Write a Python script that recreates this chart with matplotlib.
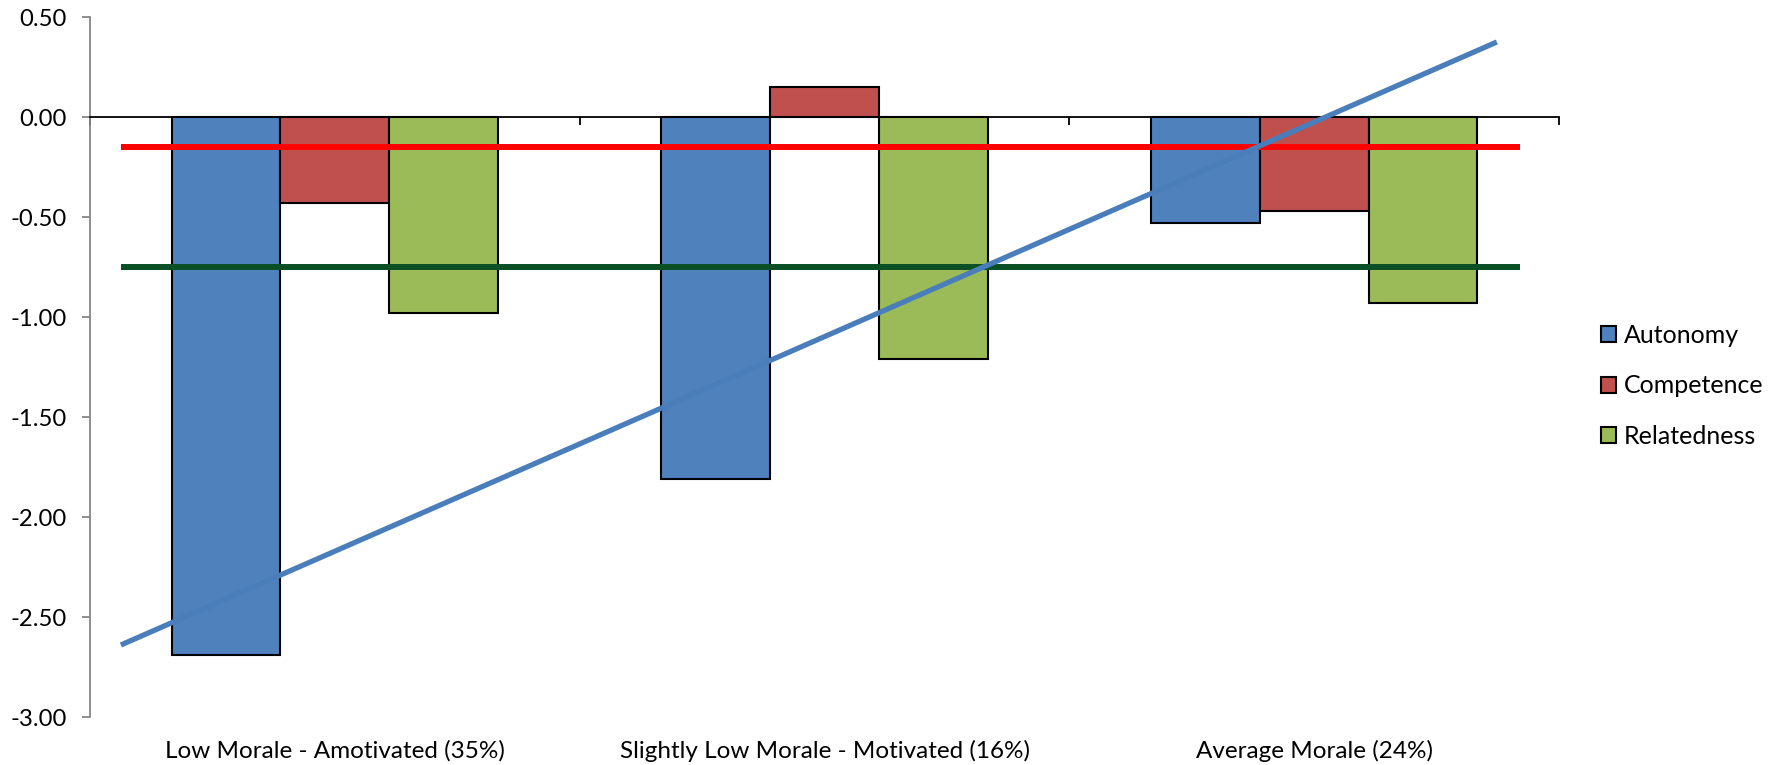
import matplotlib
matplotlib.use("Agg")
import matplotlib.pyplot as plt
import matplotlib.transforms as mtransforms
import numpy as np

# Category labels and the three need-satisfaction series
categories = ["Low Morale - Amotivated (35%)",
              "Slightly Low Morale - Motivated (16%)",
              "Average Morale (24%)"]
series_names = ["Autonomy", "Competence", "Relatedness"]
autonomy = [-2.69, -1.81, -0.53]
competence = [-0.43, 0.15, -0.47]
relatedness = [-0.98, -1.21, -0.93]

# Reference levels and the linear trend drawn across the groups
red_level = -0.15
green_level = -0.75
ref_x = [-0.437, 2.42]
trend_x = [-0.437, 2.373]
trend_y = [-2.64, 0.375]

y_ticks = [0.5, 0.0, -0.5, -1.0, -1.5, -2.0, -2.5, -3.0]

colors = ["#4F81BD", "#C0504D", "#9BBB59"]

plt.rcParams["font.family"] = ["Lato", "DejaVu Sans"]

fig = plt.figure(figsize=(17.77, 7.65), dpi=100)
ax = fig.add_axes([90 / 1777, 48 / 765, 1469 / 1777, 700 / 765])

x = np.arange(len(categories))
width = 0.222
values = [autonomy, competence, relatedness]
for i, (name, vals, col) in enumerate(zip(series_names, values, colors)):
    ax.bar(x + (i - 1) * width, vals, width, color=col, edgecolor="black",
           linewidth=1.5, label=name, zorder=2)

ax.plot(ref_x, [red_level, red_level], color="#FF0000", linewidth=4.3,
        solid_capstyle="butt", zorder=3)
ax.plot(ref_x, [green_level, green_level], color="#0B4F25", linewidth=4.3,
        solid_capstyle="butt", zorder=3)
ax.plot(trend_x, trend_y, color="#4A7EBB", linewidth=3.8,
        solid_capstyle="butt", zorder=4)

ax.set_xlim(-0.5, len(categories) - 0.5)
ax.set_ylim(-3.0, 0.5)

# y axis: gray spine with outward ticks
ax.set_yticks(y_ticks)
ax.set_yticklabels([f"{v:.2f}" for v in y_ticks])
ax.spines["left"].set_color("#868686")
ax.spines["left"].set_linewidth(1.3)
ax.tick_params(axis="y", direction="out", length=6, width=1.3,
               color="#868686", labelsize=17.2, pad=11)

# x axis line at zero with ticks at the group boundaries
ax.spines["bottom"].set_position(("data", 0))
ax.spines["bottom"].set_color("black")
ax.spines["bottom"].set_linewidth(1.3)
ax.spines["bottom"].set_zorder(2.5)
ax.set_xticks(np.arange(len(categories) + 1) - 0.5)
ax.set_xticklabels([])
ax.tick_params(axis="x", direction="out", length=6, width=1.3, color="black")
ax.spines["top"].set_visible(False)
ax.spines["right"].set_visible(False)

trans = mtransforms.blended_transform_factory(ax.transData, ax.transAxes)
for xi, name in zip(x, categories):
    ax.text(xi, -0.033, name, transform=trans, ha="center", va="top",
            fontsize=17.5)

leg = ax.legend(loc="center left", bbox_to_anchor=(1.013, 0.473),
                frameon=False, fontsize=18, handlelength=0.62,
                handleheight=0.62, handletextpad=0.3, labelspacing=1.1)

fig.savefig("out.png", dpi=100, facecolor="white")
